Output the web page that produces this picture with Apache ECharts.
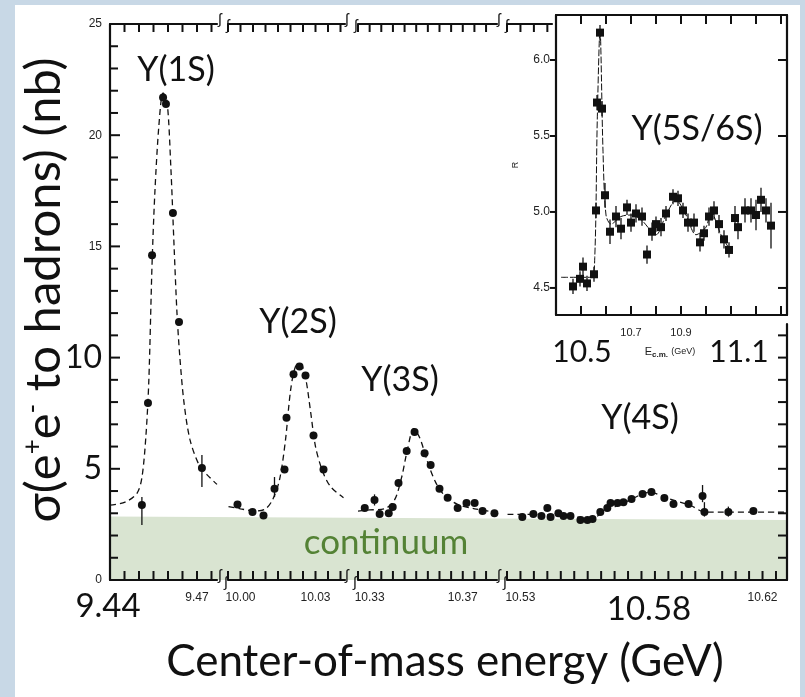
<!DOCTYPE html>
<html>
<head>
<meta charset="utf-8">
<script src="https://cdn.jsdelivr.net/npm/echarts@6/dist/echarts.min.js"></script>
<style>
html, body { margin: 0; padding: 0; background: #c8d8e6; }
#main { width: 805px; height: 697px; }
</style>
</head>
<body>
<div id="main"></div>
<script>
// ---- main plot: measured points (energy in GeV, cross-section in nb) ----
const e1S = [9.4510, 9.4531, 9.4545, 9.4583, 9.4593, 9.4617, 9.4638, 9.4717];
const s1S = [3.37, 7.96, 14.6, 21.7, 21.4, 16.5, 11.6, 5.04];
const e2S = [9.9988, 10.0048, 10.0092, 10.0136, 10.0176, 10.0184, 10.0212, 10.0236, 10.0260, 10.0292, 10.0332];
const s2S = [3.4, 3.06, 2.9, 4.1, 4.97, 7.3, 9.25, 9.6, 9.2, 6.5, 4.97];
const e3S = [10.3279, 10.3321, 10.3343, 10.3382, 10.3399, 10.3424, 10.3459, 10.3493, 10.3536, 10.3562, 10.3600, 10.3635, 10.3678, 10.3716, 10.3751, 10.3785, 10.3836];
const s3S = [3.24, 3.6, 2.97, 3.0, 3.28, 4.36, 5.8, 6.65, 5.7, 5.17, 4.1, 3.7, 3.24, 3.46, 3.46, 3.1, 3.0];
const e4S = [10.5307, 10.5348, 10.5378, 10.5400, 10.5412, 10.5441, 10.5460, 10.5486, 10.5523, 10.5549, 10.5568, 10.5597, 10.5623, 10.5635, 10.5661, 10.5683, 10.5713, 10.5754, 10.5787, 10.5835, 10.5869, 10.5925, 10.5977, 10.5984, 10.6073, 10.6166];
const s4S = [2.83, 2.97, 2.88, 3.24, 2.83, 3.0, 2.88, 2.88, 2.7, 2.7, 2.74, 3.06, 3.24, 3.46, 3.46, 3.5, 3.64, 3.87, 3.96, 3.69, 3.42, 3.42, 3.78, 3.06, 3.06, 3.1];

// dashed fit curves
const fitE1S = [9.4400, 9.4452, 9.4493, 9.4510, 9.4524, 9.4534, 9.4545, 9.4555, 9.4569, 9.4583, 9.4597, 9.4610, 9.4621, 9.4631, 9.4641, 9.4655, 9.4676, 9.4710, 9.4745, 9.4769];
const fitS1S = [3.37, 3.5, 3.9, 4.6, 6.5, 9, 14.2, 17.5, 20.5, 21.9, 21.5, 18.5, 15, 12, 10, 8, 6.3, 5.1, 4.6, 4.3];
const fitE2S = [9.9952, 10.0000, 10.0060, 10.0100, 10.0128, 10.0156, 10.0180, 10.0200, 10.0220, 10.0240, 10.0260, 10.0280, 10.0300, 10.0328, 10.0360, 10.0412];
const fitS2S = [3.3, 3.2, 3.1, 3.2, 3.6, 4.5, 6.3, 8.5, 9.6, 9.7, 9.1, 7.6, 6.0, 4.9, 4.2, 3.7];
const fitE3S = [10.3250, 10.3300, 10.3364, 10.3407, 10.3437, 10.3463, 10.3489, 10.3515, 10.3549, 10.3583, 10.3622, 10.3678, 10.3751, 10.3845];
const fitS3S = [3.1, 3.15, 3.2, 3.6, 4.6, 5.9, 6.8, 6.4, 5.3, 4.4, 3.8, 3.4, 3.2, 3.05];
const fitE4S = [10.5252, 10.5374, 10.5486, 10.5568, 10.5616, 10.5690, 10.5783, 10.5839, 10.5932, 10.5987, 10.6291];
const fitS4S = [2.95, 2.95, 2.85, 2.8, 3.1, 3.5, 3.95, 3.7, 3.35, 3.05, 3.05];

// error bars on the main plot
const errE = [9.4510, 9.4717, 10.0136, 10.3321, 10.5977, 10.5984, 10.6073];
const errLo = [2.47, 4.18, 3.73, 3.35, 3.5, 2.85, 2.85];
const errHi = [3.73, 5.62, 4.63, 3.85, 4.27, 3.5, 3.3];

// continuum band (level at left and right end)
const bandX = [0, 1];
const bandY = [2.85, 2.7];

// ---- inset: R ratio scan ----
const insetE = [10.468, 10.496, 10.508, 10.524, 10.552, 10.560, 10.564, 10.576, 10.584, 10.596, 10.616, 10.640, 10.660, 10.684, 10.700, 10.720, 10.744, 10.764, 10.784, 10.800, 10.820, 10.840, 10.868, 10.888, 10.908, 10.928, 10.952, 10.976, 10.992, 11.012, 11.032, 11.052, 11.072, 11.092, 11.116, 11.128, 11.156, 11.180, 11.200, 11.220, 11.240, 11.260];
const insetR = [4.51, 4.56, 4.64, 4.53, 4.59, 5.01, 5.72, 6.18, 5.68, 5.11, 4.87, 4.97, 4.89, 5.03, 4.93, 4.99, 4.97, 4.72, 4.87, 4.92, 4.90, 4.99, 5.10, 5.09, 5.01, 4.93, 4.93, 4.80, 4.86, 4.97, 5.01, 4.92, 4.82, 4.75, 4.96, 4.90, 5.01, 5.01, 4.98, 5.08, 5.01, 4.91];
const insetErr = [0.05, 0.05, 0.06, 0.05, 0.05, 0.05, 0.05, 0.05, 0.05, 0.08, 0.08, 0.07, 0.07, 0.05, 0.06, 0.06, 0.06, 0.06, 0.06, 0.05, 0.06, 0.05, 0.05, 0.05, 0.05, 0.06, 0.06, 0.06, 0.05, 0.06, 0.06, 0.06, 0.06, 0.05, 0.08, 0.08, 0.08, 0.08, 0.10, 0.08, 0.08, 0.15];
const insetFitE = [10.420, 10.540, 10.555, 10.565, 10.576, 10.588, 10.600, 10.620, 10.660, 10.700, 10.740, 10.800, 10.840, 10.880, 10.920, 10.960, 11.000, 11.020, 11.060, 11.100];
const insetFitR = [4.57, 4.57, 4.7, 5.6, 6.2, 5.4, 4.98, 4.92, 4.97, 4.98, 4.95, 4.85, 4.98, 5.08, 4.98, 4.85, 4.9, 5.0, 4.85, 4.74];

// ---- axis segments of the broken main x-axis ----
const xRanges = [[9.44, 9.4769], [9.995, 10.0418], [10.325, 10.3847], [10.525, 10.6291]];
const xLabelSets = [['9.47'], ['10.00', '10.03'], ['10.33', '10.37'], ['10.53', '10.62']];
const segPoints = [[e1S, s1S], [e2S, s2S], [e3S, s3S], [e4S, s4S]];
const segFits = [[fitE1S, fitS1S], [fitE2S, fitS2S], [fitE3S, fitS3S], [fitE4S, fitS4S]];
const insetXRange = [10.4, 11.324];
const insetYRange = [4.322, 6.296];
const insetXLabels = ['10.7', '10.9'];
const insetYTicks = [4.5, 5.0, 5.5, 6.0];

const INK = '#111';
const SCAN_FONT = 'Liberation Sans';
const NOTE_FONT = 'Lato';

const zip = (a, b) => a.map((v, i) => [v, b[i]]);
const steps = (from, to, step) => {
    const out = [];
    for (let k = 0; from + k * step <= to + 1e-9; k++) out.push(+(from + k * step).toFixed(4));
    return out;
};

function errRender(params, api) {
    const p1 = api.coord([api.value(0), api.value(1)]);
    const p2 = api.coord([api.value(0), api.value(2)]);
    return {
        type: 'line',
        shape: { x1: p1[0], y1: p1[1], x2: p2[0], y2: p2[1] },
        style: { stroke: INK, lineWidth: 1.3 }
    };
}

// tick marks drawn as a custom series on the axis edge
// side: 'bottom' | 'top' -> value is x; 'left' | 'right' -> value is y
function tickSeries(xi, yi, values, side, edge, lenOf) {
    return {
        type: 'custom', xAxisIndex: xi, yAxisIndex: yi, silent: true, clip: false, z: 3,
        data: values.map(v => [v, v]),
        renderItem: (params, api) => {
            const v = api.value(0);
            const len = lenOf(v);
            let p, q;
            if (side === 'bottom' || side === 'top') {
                p = api.coord([v, edge]);
                q = [p[0], p[1] + (side === 'bottom' ? -len : len)];
            } else {
                p = api.coord([edge, v]);
                q = [p[0] + (side === 'left' ? len : -len), p[1]];
            }
            return {
                type: 'line',
                shape: { x1: p[0], y1: p[1], x2: q[0], y2: q[1] },
                style: { stroke: INK, lineWidth: 2 }
            };
        }
    };
}

const lineCfg = () => ({ show: true, onZero: false, lineStyle: { color: INK, width: 2.2 } });
const noTick = { show: false };

const chart = echarts.init(document.getElementById('main'));

const grid = [
    { left: 110, top: 24, width: 107, height: 556 },
    { left: 228, top: 24, width: 117, height: 556 },
    { left: 358, top: 24, width: 139, height: 556 },
    { left: 507, top: 24, width: 280, height: 556 },
    { left: 110, top: 24, width: 677, height: 556 },   // 4: continuum band
    { left: 556, top: 15, width: 231, height: 300 },   // 5: inset
    { left: 507, top: 24, width: 45, height: 556 },    // 6: top frame left of the inset
    { left: 507, top: 324, width: 280, height: 256 }   // 7: right frame below the inset
];

const xAxis = [];
const yAxis = [];
const series = [];

xRanges.forEach((r, i) => {
    const labels = xLabelSets[i];
    xAxis.push({
        type: 'value', gridIndex: i, min: r[0], max: r[1], interval: 0.005,
        axisLine: lineCfg(), axisTick: noTick,
        splitLine: { show: false },
        axisLabel: {
            margin: 12, fontSize: 12, fontFamily: SCAN_FONT, color: '#222',
            formatter: v => {
                const s = v.toFixed(2);
                return labels.includes(s) && Math.abs(v - parseFloat(s)) < 1e-4 ? s : '';
            }
        }
    });
    xAxis.push({
        type: 'value', gridIndex: i, position: 'top', min: r[0], max: r[1], interval: 0.005,
        show: i < 3,
        axisLine: lineCfg(), axisTick: noTick,
        axisLabel: { show: false },
        splitLine: { show: false }
    });
    yAxis.push({
        type: 'value', gridIndex: i, min: 0, max: 25, interval: 5, show: i === 0,
        axisLine: lineCfg(), axisTick: noTick,
        splitLine: { show: false },
        axisLabel: {
            margin: 8, fontSize: 12, fontFamily: SCAN_FONT, color: '#222',
            formatter: v => (v === 5 || v === 10) ? '{b|' + v + '}' : String(v),
            rich: { b: { fontSize: 32, fontFamily: NOTE_FONT, color: '#111' } }
        }
    });

    series.push({
        type: 'line', xAxisIndex: 2 * i, yAxisIndex: i,
        data: zip(segFits[i][0], segFits[i][1]),
        symbol: 'none', smooth: 0.3, silent: true,
        lineStyle: { color: INK, width: 1.3, type: [6, 4] }
    });
    series.push({
        type: 'scatter', xAxisIndex: 2 * i, yAxisIndex: i,
        data: zip(segPoints[i][0], segPoints[i][1]),
        symbol: 'circle', symbolSize: 8,
        itemStyle: { color: INK, opacity: 1 }
    });
    const errData = errE.map((e, k) => [e, errLo[k], errHi[k]]).filter(d => d[0] >= r[0] && d[0] <= r[1]);
    series.push({
        type: 'custom', xAxisIndex: 2 * i, yAxisIndex: i,
        renderItem: errRender, data: errData, encode: { x: 0, y: [1, 2] }
    });

    // ticks of this segment
    const xt = steps(r[0], r[1], 0.005);
    series.push(tickSeries(2 * i, i, xt, 'bottom', 0, () => 9));
    const topTicks = i < 3 ? xt : xt.filter(v => v <= 10.5417);
    series.push(tickSeries(2 * i, i, topTicks, 'top', 25, () => 8));
});

// left axis ticks (major every 5, minor every 1)
series.push(tickSeries(0, 0, steps(0, 25, 1), 'left', xRanges[0][0], v => (v % 5 === 0 ? 10 : 8)));
// right axis ticks below the inset
series.push(tickSeries(6, 3, steps(0, 11, 1), 'right', xRanges[3][1], () => 9));

// continuum band: xAxis 8, yAxis 4
xAxis.push({ type: 'value', gridIndex: 4, min: 0, max: 1, show: false });
yAxis.push({ type: 'value', gridIndex: 4, min: 0, max: 25, show: false });
series.push({
    type: 'line', xAxisIndex: 8, yAxisIndex: 4, z: -1, silent: true,
    data: zip(bandX, bandY), symbol: 'none',
    lineStyle: { width: 0 },
    areaStyle: { color: '#d9e4d1', opacity: 1 }
});

// inset axes: xAxis 9 (bottom), 10 (top); yAxis 5 (left), 6 (right)
xAxis.push({
    type: 'value', gridIndex: 5, min: insetXRange[0], max: insetXRange[1], interval: 0.1,
    axisLine: lineCfg(), axisTick: noTick,
    splitLine: { show: false },
    axisLabel: {
        margin: 12, fontSize: 11, fontFamily: SCAN_FONT, color: '#222',
        formatter: v => {
            const s = v.toFixed(1);
            return insetXLabels.includes(s) && Math.abs(v - parseFloat(s)) < 1e-4 ? s : '';
        }
    }
});
xAxis.push({
    type: 'value', gridIndex: 5, position: 'top', min: insetXRange[0], max: insetXRange[1], interval: 0.1,
    axisLine: lineCfg(), axisTick: noTick,
    axisLabel: { show: false },
    splitLine: { show: false }
});
yAxis.push({
    type: 'value', gridIndex: 5, min: insetYRange[0], max: insetYRange[1], splitNumber: 4,
    name: 'R', nameLocation: 'middle', nameGap: 36, nameRotate: 90,
    nameTextStyle: { fontSize: 9, fontFamily: SCAN_FONT, color: '#222' },
    axisLine: lineCfg(), axisTick: noTick,
    splitLine: { show: false },
    axisLabel: {
        margin: 6, fontSize: 12, fontFamily: SCAN_FONT, color: '#222',
        formatter: v => Math.abs(v * 2 - Math.round(v * 2)) < 1e-6 ? v.toFixed(1) : ''
    }
});
yAxis.push({
    type: 'value', gridIndex: 5, position: 'right', min: insetYRange[0], max: insetYRange[1], splitNumber: 4,
    axisLine: lineCfg(), axisTick: noTick,
    axisLabel: { show: false },
    splitLine: { show: false }
});

// main frame pieces around the inset: xAxis 11, 12; yAxis 7, 8
xAxis.push({
    type: 'value', gridIndex: 6, position: 'top', min: 10.525, max: 10.5417, interval: 0.005,
    axisLine: lineCfg(), axisTick: noTick,
    axisLabel: { show: false }, splitLine: { show: false }
});
xAxis.push({ type: 'value', gridIndex: 7, min: 0, max: 1, show: false });
yAxis.push({ type: 'value', gridIndex: 6, min: 0, max: 25, show: false });
yAxis.push({
    type: 'value', gridIndex: 7, position: 'right', min: 0, max: 11.5, interval: 1,
    axisLine: lineCfg(), axisTick: noTick,
    axisLabel: { show: false }, splitLine: { show: false }
});

series.push({
    type: 'line', xAxisIndex: 9, yAxisIndex: 5, silent: true,
    data: zip(insetFitE, insetFitR), symbol: 'none', smooth: 0.3,
    lineStyle: { color: INK, width: 1, type: [7, 2] }
});
series.push({
    type: 'custom', xAxisIndex: 9, yAxisIndex: 5,
    renderItem: errRender, encode: { x: 0, y: [1, 2] },
    data: insetE.map((e, k) => [e, insetR[k] - insetErr[k], insetR[k] + insetErr[k]])
});
series.push({
    type: 'scatter', xAxisIndex: 9, yAxisIndex: 5,
    data: zip(insetE, insetR), symbol: 'rect', symbolSize: 8,
    itemStyle: { color: INK, opacity: 1 }
});
// inset ticks
const insetXT = steps(insetXRange[0], 11.3, 0.1);
series.push(tickSeries(9, 5, insetXT, 'bottom', insetYRange[0], () => 9));
series.push(tickSeries(9, 5, insetXT, 'top', insetYRange[1], () => 9));
series.push(tickSeries(9, 5, insetYTicks, 'left', insetXRange[0], () => -6));
series.push(tickSeries(9, 5, insetYTicks, 'right', insetXRange[1], () => 9));

const note = (text, x, y, size, color) => ({
    type: 'text', x: x, y: y, z: 8, silent: true,
    style: {
        text: text, fill: color || '#111', align: 'center', verticalAlign: 'middle',
        font: 'normal ' + size + 'px ' + NOTE_FONT
    }
});

// little "broken axis" marks of the scanned figure
const breakMark = (x, y) => ({
    type: 'text', x: x, y: y, z: 8, silent: true,
    style: { text: 'ʃ', fill: INK, align: 'center', verticalAlign: 'middle', font: 'normal 15px ' + SCAN_FONT }
});

const graphic = [
    // white panel on the blue slide background
    { type: 'rect', z: -10, shape: { x: 15, y: 5, width: 785, height: 692 }, style: { fill: '#ffffff' } },
    breakMark(220, 576), breakMark(226, 583), breakMark(347, 576), breakMark(355, 583),
    breakMark(499, 576), breakMark(505, 583),
    breakMark(220, 20), breakMark(228, 26), breakMark(347, 20), breakMark(356, 26),
    breakMark(499, 20), breakMark(507, 26),
    note('Y(1S)', 176, 70, 34),
    note('Y(2S)', 298, 322, 34),
    note('Y(3S)', 400, 380, 34),
    note('Y(4S)', 640, 418, 34),
    note('Y(5S/6S)', 697, 129, 34),
    note('9.44', 108, 606, 33),
    note('10.58', 649, 609, 33),
    note('10.5', 582, 352, 30),
    note('11.1', 739, 352, 30),
    note('continuum', 386, 543, 35, '#548235'),
    note('Center-of-mass energy (GeV)', 445, 662, 44),
    {
        type: 'text', x: 670, y: 352, z: 8, silent: true,
        style: {
            text: '{e|E}{s|c.m.} {g|(GeV)}', align: 'center', verticalAlign: 'middle',
            rich: {
                e: { fontSize: 11, fontFamily: SCAN_FONT, fill: '#222' },
                s: { fontSize: 8, fontFamily: SCAN_FONT, fontWeight: 'bold', fill: '#222', verticalAlign: 'bottom', padding: [6, 0, 0, 0] },
                g: { fontSize: 9, fontFamily: SCAN_FONT, fill: '#222' }
            }
        }
    },
    {
        type: 'text', x: 44, y: 290, rotation: Math.PI / 2, z: 8, silent: true,
        style: {
            text: '{a|σ(e}{s|+}{a|e}{s|-}{a| to hadrons) (nb)}', align: 'center', verticalAlign: 'middle',
            rich: {
                a: { fontSize: 49, fontFamily: NOTE_FONT, fill: '#111' },
                s: { fontSize: 26, fontFamily: NOTE_FONT, fill: '#111', verticalAlign: 'top', padding: [0, 0, 22, 0] }
            }
        }
    }
];

chart.setOption({
    animation: false,
    backgroundColor: 'transparent',
    grid: grid,
    xAxis: xAxis,
    yAxis: yAxis,
    series: series,
    graphic: graphic
});
</script>
</body>
</html>
